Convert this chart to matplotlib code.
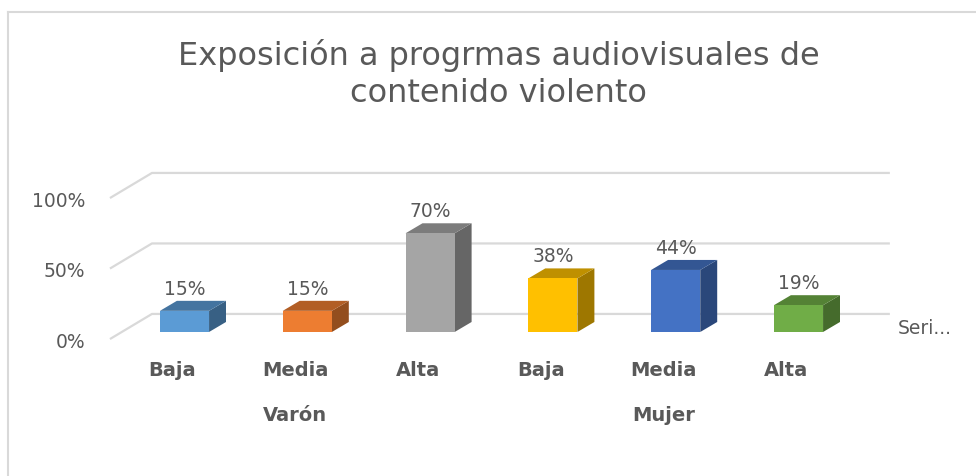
import matplotlib.pyplot as plt
from matplotlib.patches import Polygon
from matplotlib.colors import to_rgb

# data
categories = ['Baja', 'Media', 'Alta', 'Baja', 'Media', 'Alta']
groups = ['Varón', 'Mujer']
group_size = 3
values = [15, 15, 70, 38, 44, 19]
yticks = [0, 50, 100]
colors = ['#5B9BD5', '#ED7D31', '#A5A5A5', '#FFC000', '#4472C4', '#70AD47']
title = 'Exposición a progrmas audiovisuales de\ncontenido violento'
series_name = 'Seri...'

GRID = '#D9D9D9'
TXT = '#595959'


def shade(c, f):
    r, g, b = to_rgb(c)
    return (r * f, g * f, b * f)


fig = plt.figure(figsize=(9.76, 4.77), dpi=100)
ax = fig.add_axes([0, 0, 1, 1])
ax.set_xlim(-1.5024, 6.4455)
ax.set_ylim(-102.13, 236.17)
ax.axis('off')

# fake 3d geometry (in data units)
w = 0.2             # half bar width
dx, dy = 0.138, 7.1   # bar depth
fx, fy = -0.098, -5.0  # floor front edge
bx, by = 0.244, 12.8   # back wall
xl, xr = -0.509, 5.5

# walls + gridlines
for v in yticks:
    ax.plot([xl + fx, xl + bx, xr + bx], [v + fy, v + by, v + by],
            color=GRID, lw=1.6, solid_capstyle='butt', zorder=1)
    ax.text(xl + fx - 0.2, v + fy - 1.5, '{}%'.format(v), ha='right', va='center',
            fontsize=13.5, color=TXT)

# bars
for i, (v, c) in enumerate(zip(values, colors)):
    front = [(i - w, 0), (i + w, 0), (i + w, v), (i - w, v)]
    top = [(i - w, v), (i + w, v), (i + w + dx, v + dy), (i - w + dx, v + dy)]
    side = [(i + w, 0), (i + w + dx, dy), (i + w + dx, v + dy), (i + w, v)]
    ax.add_patch(Polygon(side, closed=True, fc=shade(c, 0.62), ec='none', zorder=3))
    ax.add_patch(Polygon(top, closed=True, fc=shade(c, 0.75), ec='none', zorder=3))
    ax.add_patch(Polygon(front, closed=True, fc=c, ec='none', zorder=4))
    ax.text(i, v + dy + 9, '{}%'.format(v), ha='center', va='center',
            fontsize=13.5, color=TXT, zorder=5)
    ax.text(i + fx, -26.5, categories[i], ha='center', va='center',
            fontsize=14, fontweight='bold', color=TXT)

for g, name in enumerate(groups):
    mid = g * group_size + (group_size - 1) / 2
    ax.text(mid + fx, -58.5, name, ha='center', va='center',
            fontsize=14, fontweight='bold', color=TXT)

ax.text(5.81, 3.5, series_name, ha='left', va='center', fontsize=13.5, color=TXT)

# chart border
fig.add_artist(plt.Line2D([0.008, 0.008], [0, 0.972], color=GRID, lw=1.5))
fig.add_artist(plt.Line2D([0.008, 1], [0.972, 0.972], color=GRID, lw=1.5))

fig.text(0.511, 0.845, title, ha='center', va='center', fontsize=23,
         color=TXT, linespacing=1.25)

plt.savefig('out.png', dpi=100)
